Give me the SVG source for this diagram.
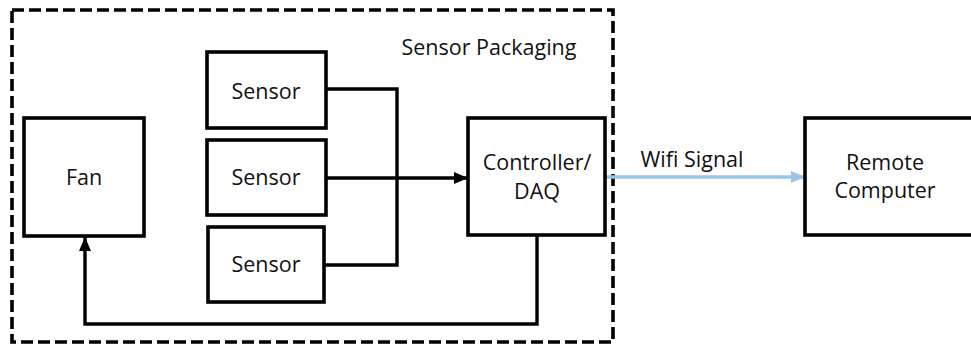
<svg xmlns="http://www.w3.org/2000/svg" width="971" height="345" viewBox="0 0 971 345">
<defs>
<style>
.box{fill:#fff;stroke:#000;stroke-width:3.6}
.lbl{font-family:"Open Sans","Liberation Sans",sans-serif;font-size:21.5px;fill:#111;text-anchor:middle}
.wire{fill:none;stroke:#000;stroke-width:3.4}
.wifi{fill:none;stroke:#9DC3E6;stroke-width:3.4}
</style>
<marker id="ah" markerUnits="userSpaceOnUse" markerWidth="16" markerHeight="16" viewBox="0 0 16 16" refX="14" refY="8" orient="auto">
<path d="M0,2 L14,8 L0,14 Z" fill="#000"/>
</marker>
<marker id="ahb" markerUnits="userSpaceOnUse" markerWidth="16" markerHeight="16" viewBox="0 0 16 16" refX="14" refY="8" orient="auto">
<path d="M0,2 L14,8 L0,14 Z" fill="#9DC3E6"/>
</marker>
</defs>
<rect width="971" height="345" fill="#fff"/>
<g id="packaging">
<rect x="12" y="10" width="601" height="332" fill="none" stroke="#000" stroke-width="3.6" stroke-dasharray="12 5"/>
<text class="lbl" x="489" y="55">Sensor Packaging</text>
</g>
<g id="connectors">
<path class="wire" d="M326 89 H397 V265 H324"/>
<path class="wire" d="M326 178 H468" marker-end="url(#ah)"/>
<path class="wire" d="M537 235 V324 H85 V237" marker-end="url(#ah)"/>
<path class="wifi" d="M605 177 H805" marker-end="url(#ahb)"/>
<text class="lbl" x="692" y="167">Wifi Signal</text>
</g>
<g id="fan">
<rect class="box" x="24" y="118" width="120" height="118"/>
<text class="lbl" x="84" y="185">Fan</text>
</g>
<g id="sensor1">
<rect class="box" x="207" y="52" width="119" height="76"/>
<text class="lbl" x="266" y="99">Sensor</text>
</g>
<g id="sensor2">
<rect class="box" x="207" y="140" width="119" height="75"/>
<text class="lbl" x="266" y="185">Sensor</text>
</g>
<g id="sensor3">
<rect class="box" x="208" y="227" width="116" height="75"/>
<text class="lbl" x="266" y="272">Sensor</text>
</g>
<g id="controller">
<rect class="box" x="468" y="118" width="137" height="117"/>
<text class="lbl" x="537" y="170">Controller/</text>
<text class="lbl" x="537" y="199">DAQ</text>
</g>
<g id="remote">
<rect class="box" x="805" y="118" width="175" height="117"/>
<text class="lbl" x="885" y="170">Remote</text>
<text class="lbl" x="885" y="198">Computer</text>
</g>
</svg>
